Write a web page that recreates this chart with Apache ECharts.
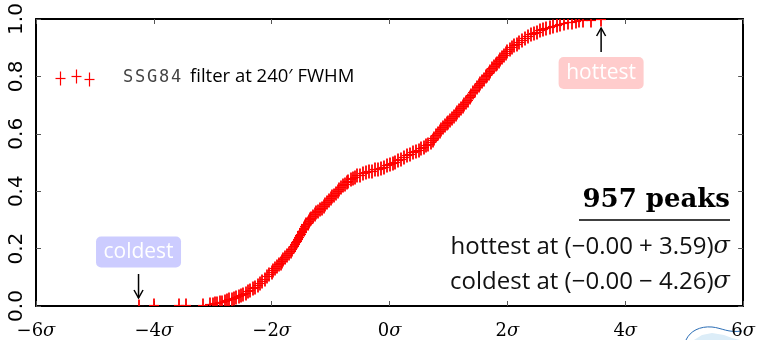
<!DOCTYPE html>
<html>
<head>
<meta charset="utf-8">
<script src="https://cdn.jsdelivr.net/npm/echarts@6/dist/echarts.min.js"></script>
<style>
  html, body { margin: 0; padding: 0; background: #fff; }
  #chart { width: 758px; height: 340px; }
</style>
</head>
<body>
<div id="chart"></div>
<script>
// Peak catalogue summary
const nPeaks = 957;
const hottestSigma = 3.59;
const coldestSigma = -4.26;
const meanLabel = '−0.00';
const filterName = 'SSG84';
const filterText = 'filter at 240′ FWHM';

// Empirical cumulative distribution of peak heights: [height in σ, cumulative fraction]
const peakCdf = [
  [-4.26, 0.001], [-4.00, 0.002], [-3.57, 0.003], [-3.45, 0.004], [-3.17, 0.005], [-3.04, 0.006],
  [-3.00, 0.008], [-2.96, 0.009], [-2.92, 0.011], [-2.88, 0.013], [-2.84, 0.015], [-2.80, 0.018],
  [-2.76, 0.020], [-2.72, 0.023], [-2.68, 0.025], [-2.64, 0.028], [-2.60, 0.032], [-2.56, 0.035],
  [-2.52, 0.039], [-2.48, 0.043], [-2.44, 0.047], [-2.40, 0.052], [-2.36, 0.057], [-2.32, 0.062],
  [-2.28, 0.067], [-2.24, 0.073], [-2.20, 0.080], [-2.16, 0.087], [-2.12, 0.095], [-2.08, 0.103],
  [-2.04, 0.111], [-2.00, 0.120], [-1.97, 0.126], [-1.94, 0.132], [-1.91, 0.139], [-1.88, 0.145],
  [-1.85, 0.151], [-1.82, 0.158], [-1.80, 0.163], [-1.77, 0.170], [-1.74, 0.177], [-1.71, 0.185],
  [-1.68, 0.192], [-1.65, 0.200], [-1.62, 0.208], [-1.60, 0.215], [-1.58, 0.222], [-1.57, 0.227],
  [-1.55, 0.234], [-1.54, 0.240], [-1.52, 0.246], [-1.51, 0.252], [-1.49, 0.258], [-1.48, 0.263],
  [-1.46, 0.268], [-1.45, 0.272], [-1.43, 0.278], [-1.41, 0.284], [-1.39, 0.290], [-1.37, 0.296],
  [-1.35, 0.302], [-1.33, 0.308], [-1.30, 0.315], [-1.27, 0.320], [-1.24, 0.326], [-1.21, 0.332],
  [-1.18, 0.337], [-1.15, 0.343], [-1.12, 0.349], [-1.09, 0.356], [-1.06, 0.362], [-1.03, 0.369],
  [-1.00, 0.375], [-0.97, 0.382], [-0.94, 0.388], [-0.91, 0.395], [-0.88, 0.401], [-0.85, 0.408],
  [-0.82, 0.414], [-0.79, 0.420], [-0.76, 0.426], [-0.73, 0.432], [-0.70, 0.437], [-0.66, 0.442],
  [-0.62, 0.447], [-0.58, 0.451], [-0.55, 0.455], [-0.50, 0.458], [-0.45, 0.462], [-0.40, 0.466],
  [-0.35, 0.469], [-0.30, 0.472], [-0.25, 0.476], [-0.20, 0.479], [-0.15, 0.482], [-0.10, 0.486],
  [-0.05, 0.490], [0.00, 0.494], [0.05, 0.498], [0.10, 0.503], [0.15, 0.508], [0.20, 0.513],
  [0.25, 0.519], [0.30, 0.525], [0.35, 0.530], [0.40, 0.535], [0.45, 0.540], [0.50, 0.545],
  [0.54, 0.550], [0.58, 0.555], [0.62, 0.560], [0.66, 0.566], [0.70, 0.572], [0.73, 0.579],
  [0.76, 0.587], [0.79, 0.595], [0.82, 0.602], [0.85, 0.610], [0.88, 0.617], [0.91, 0.623],
  [0.94, 0.630], [0.97, 0.636], [1.00, 0.642], [1.03, 0.649], [1.06, 0.655], [1.09, 0.662],
  [1.12, 0.668], [1.15, 0.675], [1.18, 0.682], [1.21, 0.689], [1.24, 0.696], [1.27, 0.703],
  [1.30, 0.710], [1.33, 0.719], [1.36, 0.727], [1.39, 0.736], [1.42, 0.745], [1.45, 0.753],
  [1.48, 0.762], [1.51, 0.770], [1.54, 0.777], [1.57, 0.785], [1.60, 0.792], [1.63, 0.800],
  [1.65, 0.805], [1.68, 0.813], [1.71, 0.820], [1.74, 0.828], [1.77, 0.835], [1.80, 0.843],
  [1.82, 0.848], [1.85, 0.855], [1.88, 0.862], [1.91, 0.868], [1.94, 0.875], [1.97, 0.882],
  [2.00, 0.888], [2.04, 0.895], [2.08, 0.901], [2.12, 0.908], [2.16, 0.914], [2.20, 0.920],
  [2.25, 0.927], [2.30, 0.933], [2.35, 0.940], [2.40, 0.946], [2.45, 0.951], [2.50, 0.956],
  [2.55, 0.961], [2.60, 0.965], [2.66, 0.969], [2.72, 0.973], [2.78, 0.977], [2.84, 0.980],
  [2.90, 0.983], [2.96, 0.986], [3.03, 0.989], [3.10, 0.991], [3.16, 0.993], [3.22, 0.995],
  [3.28, 0.996], [3.42, 0.998], [3.59, 1.000]
];

// Axis ranges
const xRange = [-6, 6];
const xStep = 2;
const yRange = [0, 1];
const yStep = 0.2;

const RED = '#ff0000';
const SANS = '"Open Sans", "DejaVu Sans", sans-serif';
const SERIF = '"DejaVu Serif", "Liberation Serif", serif';

// marker half-extents of the "+" glyph
const CROSS_W = 5, CROSS_H = 7;

function sigmaLabel(v) {
  const s = v < 0 ? '−' + Math.abs(v) : String(v);
  return '{n|' + s + '}{s|σ}';
}

function crossShapes(cx, cy, lwH, lwV) {
  return [
    { type: 'line', shape: { x1: cx - CROSS_W, y1: cy, x2: cx + CROSS_W, y2: cy }, style: { stroke: RED, lineWidth: lwH } },
    { type: 'line', shape: { x1: cx, y1: cy - CROSS_H, x2: cx, y2: cy + CROSS_H }, style: { stroke: RED, lineWidth: lwV } }
  ];
}

const chart = echarts.init(document.getElementById('chart'), null, { renderer: 'canvas' });

const tickStyle = { show: true, inside: true, length: 5, lineStyle: { color: '#555', width: 1 } };
const frameLine = { show: true, onZero: false, lineStyle: { color: '#000', width: 2 } };

chart.setOption({
  animation: false,
  backgroundColor: '#fff',
  grid: { left: 36, right: 10, top: 19, bottom: 29, containLabel: false },
  xAxis: [
    {
      type: 'value', min: xRange[0], max: xRange[1], interval: xStep,
      axisLine: frameLine, axisTick: tickStyle, splitLine: { show: false },
      axisLabel: {
        margin: 16, formatter: sigmaLabel,
        rich: {
          n: { fontFamily: SERIF, fontSize: 18, color: '#000' },
          s: { fontFamily: SERIF, fontSize: 18, fontStyle: 'italic', color: '#000' }
        }
      }
    },
    {
      type: 'value', position: 'top', min: xRange[0], max: xRange[1], interval: xStep,
      axisLine: frameLine, axisTick: tickStyle, axisLabel: { show: false }, splitLine: { show: false }
    }
  ],
  yAxis: [
    {
      type: 'value', min: yRange[0], max: yRange[1], interval: yStep,
      axisLine: frameLine, axisTick: tickStyle, splitLine: { show: false },
      axisLabel: {
        rotate: 90, margin: 9, fontFamily: '"Liberation Sans Narrow", "DejaVu Sans", sans-serif', fontSize: 20, color: '#000',
        formatter: v => v.toFixed(1)
      }
    },
    {
      type: 'value', position: 'right', min: yRange[0], max: yRange[1], interval: yStep,
      axisLine: frameLine, axisTick: tickStyle, axisLabel: { show: false }, splitLine: { show: false }
    }
  ],
  series: [
    {
      type: 'custom',
      name: filterName,
      clip: true,
      data: peakCdf,
      renderItem: function (params, api) {
        const p = api.coord([api.value(0), api.value(1)]);
        return { type: 'group', children: crossShapes(Math.round(p[0]), Math.round(p[1]) + 0.5, 1.2, 1.8) };
      }
    }
  ]
});

// Overlay: legend, annotations and summary text
function arrow(x, yTail, yTip) {
  const dir = yTip < yTail ? 1 : -1;
  return [
    { type: 'line', shape: { x1: x, y1: yTail, x2: x, y2: yTip }, style: { stroke: '#000', lineWidth: 1.5 } },
    { type: 'polyline', shape: { points: [[x - 4.5, yTip + dir * 8], [x, yTip], [x + 4.5, yTip + dir * 8]] },
      style: { stroke: '#000', lineWidth: 1.5, fill: null } }
  ];
}

const hot = chart.convertToPixel({ xAxisIndex: 0, yAxisIndex: 0 }, [hottestSigma, yRange[1]]);
const cold = chart.convertToPixel({ xAxisIndex: 0, yAxisIndex: 0 }, [coldestSigma, yRange[0]]);

const hotLine = 'hottest at (' + meanLabel + ' + ' + hottestSigma.toFixed(2) + ')';
const coldLine = 'coldest at (' + meanLabel + ' − ' + Math.abs(coldestSigma).toFixed(2) + ')';

const textRight = 730;
const graphics = [];

// legend: three sample markers, typewriter filter name, description
graphics.push(...crossShapes(60.5, 78.5, 1.2, 1.2), ...crossShapes(76.5, 76.5, 1.2, 1.2), ...crossShapes(89.5, 79.5, 1.2, 1.2));
filterName.split('').forEach((ch, i) => {
  graphics.push({ type: 'text', x: 123 + i * 12, y: 78,
    style: { text: ch, font: '17px "DejaVu Sans Mono", monospace', fill: '#444', verticalAlign: 'middle' } });
});
graphics.push({ type: 'text', x: 190, y: 77,
  style: { text: filterText, font: '18.5px ' + SANS, fill: '#000', verticalAlign: 'middle' } });

// hottest marker annotation
graphics.push(...arrow(hot[0], hot[1] + 33, hot[1] + 9));
graphics.push({ type: 'rect', shape: { x: hot[0] - 42.5, y: hot[1] + 38, width: 85, height: 32, r: 5 },
  style: { fill: '#ffcccc' } });
graphics.push({ type: 'text', x: hot[0], y: hot[1] + 54,
  style: { text: 'hottest', font: '21px ' + SANS, fill: '#fff', align: 'center', verticalAlign: 'middle' } });

// coldest marker annotation
graphics.push(...arrow(cold[0], cold[1] - 32, cold[1] - 8));
graphics.push({ type: 'rect', shape: { x: cold[0] - 42.5, y: cold[1] - 69.5, width: 85, height: 31, r: 5 },
  style: { fill: '#ccccff' } });
graphics.push({ type: 'text', x: cold[0], y: cold[1] - 54,
  style: { text: 'coldest', font: '21px ' + SANS, fill: '#fff', align: 'center', verticalAlign: 'middle' } });

// summary block
graphics.push({ type: 'text', x: textRight, y: 200,
  style: { text: nPeaks + ' peaks', font: 'bold 26px "DejaVu Serif", serif', fill: '#000', align: 'right', verticalAlign: 'middle' } });
graphics.push({ type: 'line', shape: { x1: 579, y1: 220, x2: textRight, y2: 220 }, style: { stroke: '#000', lineWidth: 1.5 } });
const summaryRich = { t: { font: '24px ' + SANS, fill: '#111' }, s: { font: 'italic 24px ' + SERIF, fill: '#111' } };
graphics.push({ type: 'text', x: textRight, y: 247,
  style: { text: '{t|' + hotLine + '}{s|σ}', align: 'right', verticalAlign: 'middle', rich: summaryRich } });
graphics.push({ type: 'text', x: textRight, y: 282,
  style: { text: '{t|' + coldLine + '}{s|σ}', align: 'right', verticalAlign: 'middle', rich: summaryRich } });

// small swoosh emblem in the lower right corner
graphics.push({ type: 'polygon', silent: true,
  shape: { points: [[694, 340], [702, 335], [712, 333], [724, 335], [732, 338], [740, 340]] },
  style: { fill: '#dcedf8' } });
graphics.push({ type: 'bezierCurve', silent: true,
  shape: { x1: 686, y1: 340, cpx1: 690, cpy1: 331, cpx2: 700, cpy2: 326, x2: 712, y2: 327 },
  style: { stroke: '#2a6db5', lineWidth: 1, fill: null } });
graphics.push({ type: 'bezierCurve', silent: true,
  shape: { x1: 712, y1: 327, cpx1: 722, cpy1: 328, cpx2: 728, cpy2: 333, x2: 742, y2: 331 },
  style: { stroke: '#2a6db5', lineWidth: 1, fill: null } });

chart.setOption({ graphic: graphics });
</script>
</body>
</html>
